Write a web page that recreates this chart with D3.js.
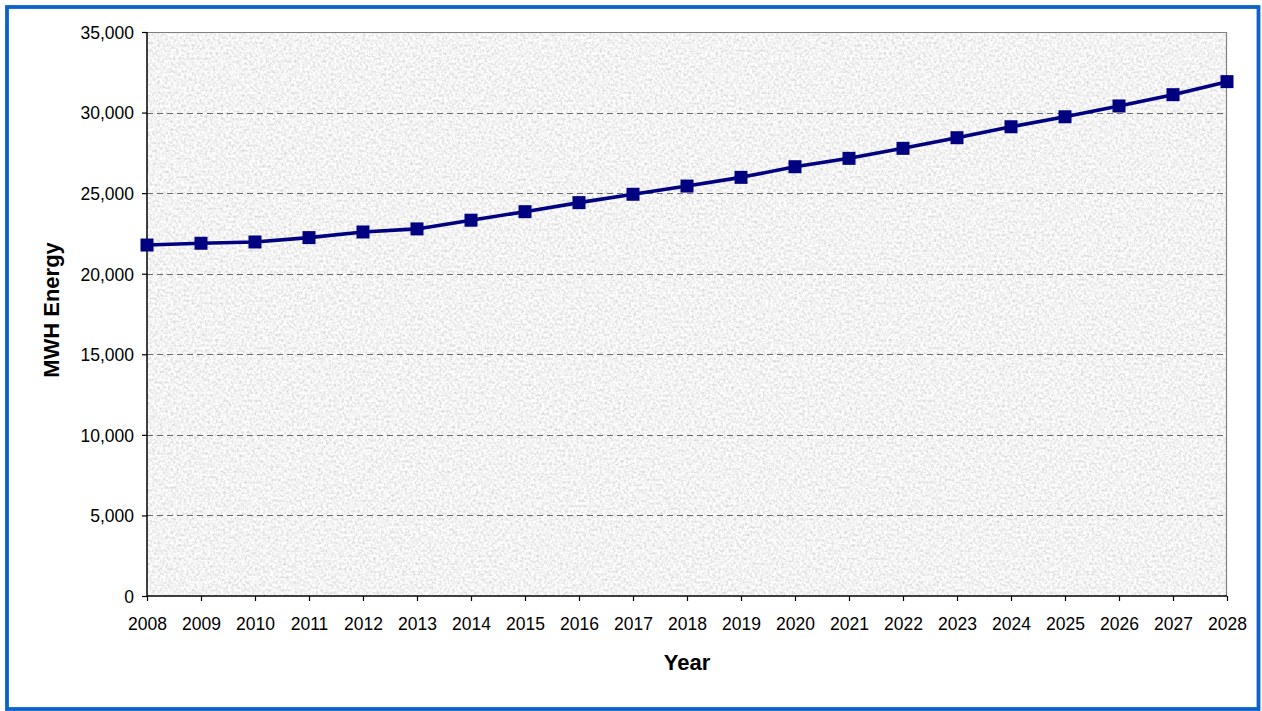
<!DOCTYPE html>
<html>
<head>
<meta charset="utf-8">
<script src="https://cdn.jsdelivr.net/npm/d3@7"></script>
<style>
  html, body { margin: 0; padding: 0; background: #ffffff; }
  svg { display: block; }
  .axis text { font-family: "Liberation Sans", Arial, sans-serif; font-size: 17.5px; fill: #000; }
  .title { font-family: "Liberation Sans", Arial, sans-serif; font-size: 22px; font-weight: bold; fill: #000; }
</style>
</head>
<body>
<script>
// Annual energy forecast, MWh
const years = ["2008","2009","2010","2011","2012","2013","2014","2015","2016","2017",
               "2018","2019","2020","2021","2022","2023","2024","2025","2026","2027","2028"];
const energy = [21780, 21890, 21970, 22240, 22590, 22780, 23320, 23850, 24410, 24930,
                25440, 25980, 26640, 27160, 27780, 28440, 29120, 29740, 30410, 31110, 31920];
const yTicks = [0, 5000, 10000, 15000, 20000, 25000, 30000, 35000];

const W = 1262, H = 711;
const plot = { left: 147, right: 1227, top: 32, bottom: 596 };

const svg = d3.select("body").append("svg").attr("width", W).attr("height", H);

// granite-like grey texture for the plot area
const defs = svg.append("defs");
const f = defs.append("filter").attr("id", "granite")
  .attr("x", 0).attr("y", 0).attr("width", 1).attr("height", 1)
  .attr("filterUnits", "objectBoundingBox");
f.append("feTurbulence").attr("type", "fractalNoise")
  .attr("baseFrequency", 0.38).attr("numOctaves", 3).attr("seed", 7).attr("result", "n");
const k = 0.6, off = 0.895 - 0.5 * k;
f.append("feColorMatrix").attr("in", "n").attr("type", "matrix")
  .attr("values", `${k} 0 0 0 ${off}  ${k} 0 0 0 ${off}  ${k} 0 0 0 ${off}  0 0 0 0 1`);

// outer frame
svg.append("rect").attr("x", 7).attr("y", 7).attr("width", 1251.5).attr("height", 702)
  .attr("fill", "#ffffff").attr("stroke", "#0b63c9").attr("stroke-width", 3.8);

const x = d3.scalePoint().domain(years).range([plot.left, plot.right]).padding(0);
const y = d3.scaleLinear().domain([0, 35000]).range([plot.bottom, plot.top]);

// plot background
svg.append("rect")
  .attr("x", plot.left).attr("y", plot.top)
  .attr("width", plot.right - plot.left).attr("height", plot.bottom - plot.top)
  .attr("fill", "#e4e4e4").attr("filter", "url(#granite)");

// dashed gridlines
svg.append("g").selectAll("line").data(yTicks.filter(d => d > 0)).join("line")
  .attr("x1", plot.left).attr("x2", plot.right)
  .attr("y1", d => Math.round(y(d)) + 0.5).attr("y2", d => Math.round(y(d)) + 0.5)
  .attr("stroke", "#6a6a6a").attr("stroke-width", 1).attr("stroke-dasharray", "6,4");

// plot border (top and right)
svg.append("path")
  .attr("d", `M${plot.left},${plot.top + 0.5}H${plot.right - 0.5}V${plot.bottom}`)
  .attr("fill", "none").attr("stroke", "#808080").attr("stroke-width", 1.2);

// axes
const yAxis = svg.append("g").attr("class", "axis")
  .attr("transform", `translate(${plot.left},0)`)
  .call(d3.axisLeft(y).tickValues(yTicks).tickFormat(d3.format(",")).tickSize(5).tickPadding(8));
const xAxis = svg.append("g").attr("class", "axis")
  .attr("transform", `translate(0,${plot.bottom})`)
  .call(d3.axisBottom(x).tickSize(5).tickPadding(17));
svg.selectAll(".axis .domain").attr("stroke", "#000").attr("stroke-width", 1.5);
svg.selectAll(".axis .tick line").attr("stroke", "#000").attr("stroke-width", 1.2);
yAxis.select(".domain").attr("d", `M0,${plot.top}V${plot.bottom}`);
xAxis.select(".domain").attr("d", `M${plot.left},0H${plot.right}`);
yAxis.selectAll(".tick text").attr("dy", "0.36em");

// series line + square markers
const line = d3.line().x((d, i) => x(years[i])).y(d => y(d));
svg.append("path").datum(energy)
  .attr("d", line).attr("fill", "none")
  .attr("stroke", "#000080").attr("stroke-width", 3.6).attr("stroke-linejoin", "round");
const m = 13;
svg.append("g").selectAll("rect").data(energy).join("rect")
  .attr("x", (d, i) => x(years[i]) - m / 2)
  .attr("y", d => y(d) - m / 2)
  .attr("width", m).attr("height", m)
  .attr("fill", "#000080");

// axis titles
svg.append("text").attr("class", "title")
  .attr("x", (plot.left + plot.right) / 2).attr("y", 670)
  .attr("text-anchor", "middle").text("Year");
svg.append("text").attr("class", "title")
  .attr("transform", `translate(59,${310}) rotate(-90)`)
  .attr("text-anchor", "middle").text("MWH Energy");
</script>
</body>
</html>
